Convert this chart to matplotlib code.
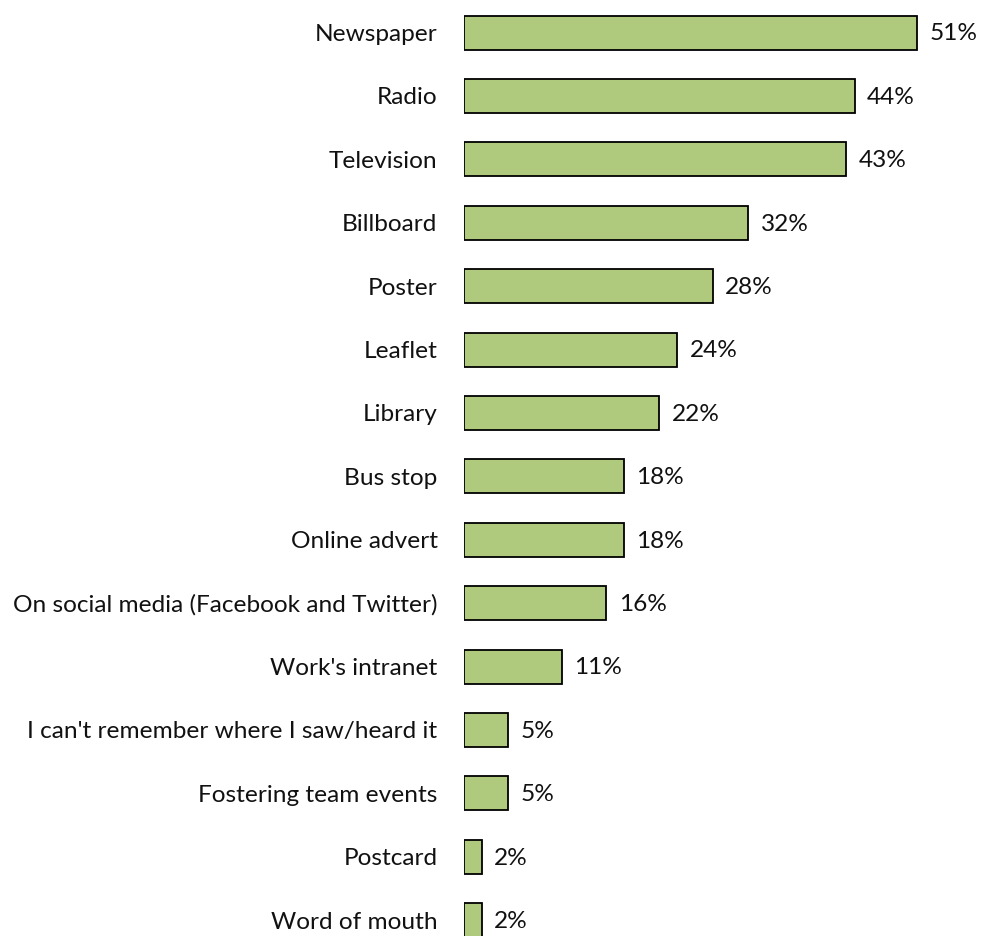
import matplotlib
matplotlib.use("Agg")
import matplotlib.pyplot as plt

categories = [
    "Newspaper", "Radio", "Television", "Billboard", "Poster", "Leaflet",
    "Library", "Bus stop", "Online advert",
    "On social media (Facebook and Twitter)", "Work's intranet",
    "I can't remember where I saw/heard it", "Fostering team events",
    "Postcard", "Word of mouth",
]
values = [51, 44, 43, 32, 28, 24, 22, 18, 18, 16, 11, 5, 5, 2, 2]

plt.rcParams["font.family"] = ["Lato", "DejaVu Sans"]

fig = plt.figure(figsize=(9.82, 9.36), dpi=100)
ax = fig.add_axes([464 / 982, 0, 500 / 982, 1])

pos = list(range(len(categories)))
bars = ax.barh(pos, values, height=0.536, color="#AFCA7D",
               edgecolor="black", linewidth=1.3)

ax.set_xlim(0, 500 / 8.88)
ax.set_ylim(14.25, -0.513)

ax.set_yticks(pos)
ax.set_yticklabels(categories, fontsize=17.6, color="#111111")
ax.tick_params(axis="y", length=0, pad=19)
ax.set_xticks([])
for s in ax.spines.values():
    s.set_visible(False)

for b, v in zip(bars, values):
    ax.annotate(f"{v}%", xy=(b.get_width(), b.get_y() + b.get_height() / 2),
                xytext=(9, -1), textcoords="offset points",
                ha="left", va="center", fontsize=17.6, color="#111111")

fig.savefig("out.png", dpi=100)
